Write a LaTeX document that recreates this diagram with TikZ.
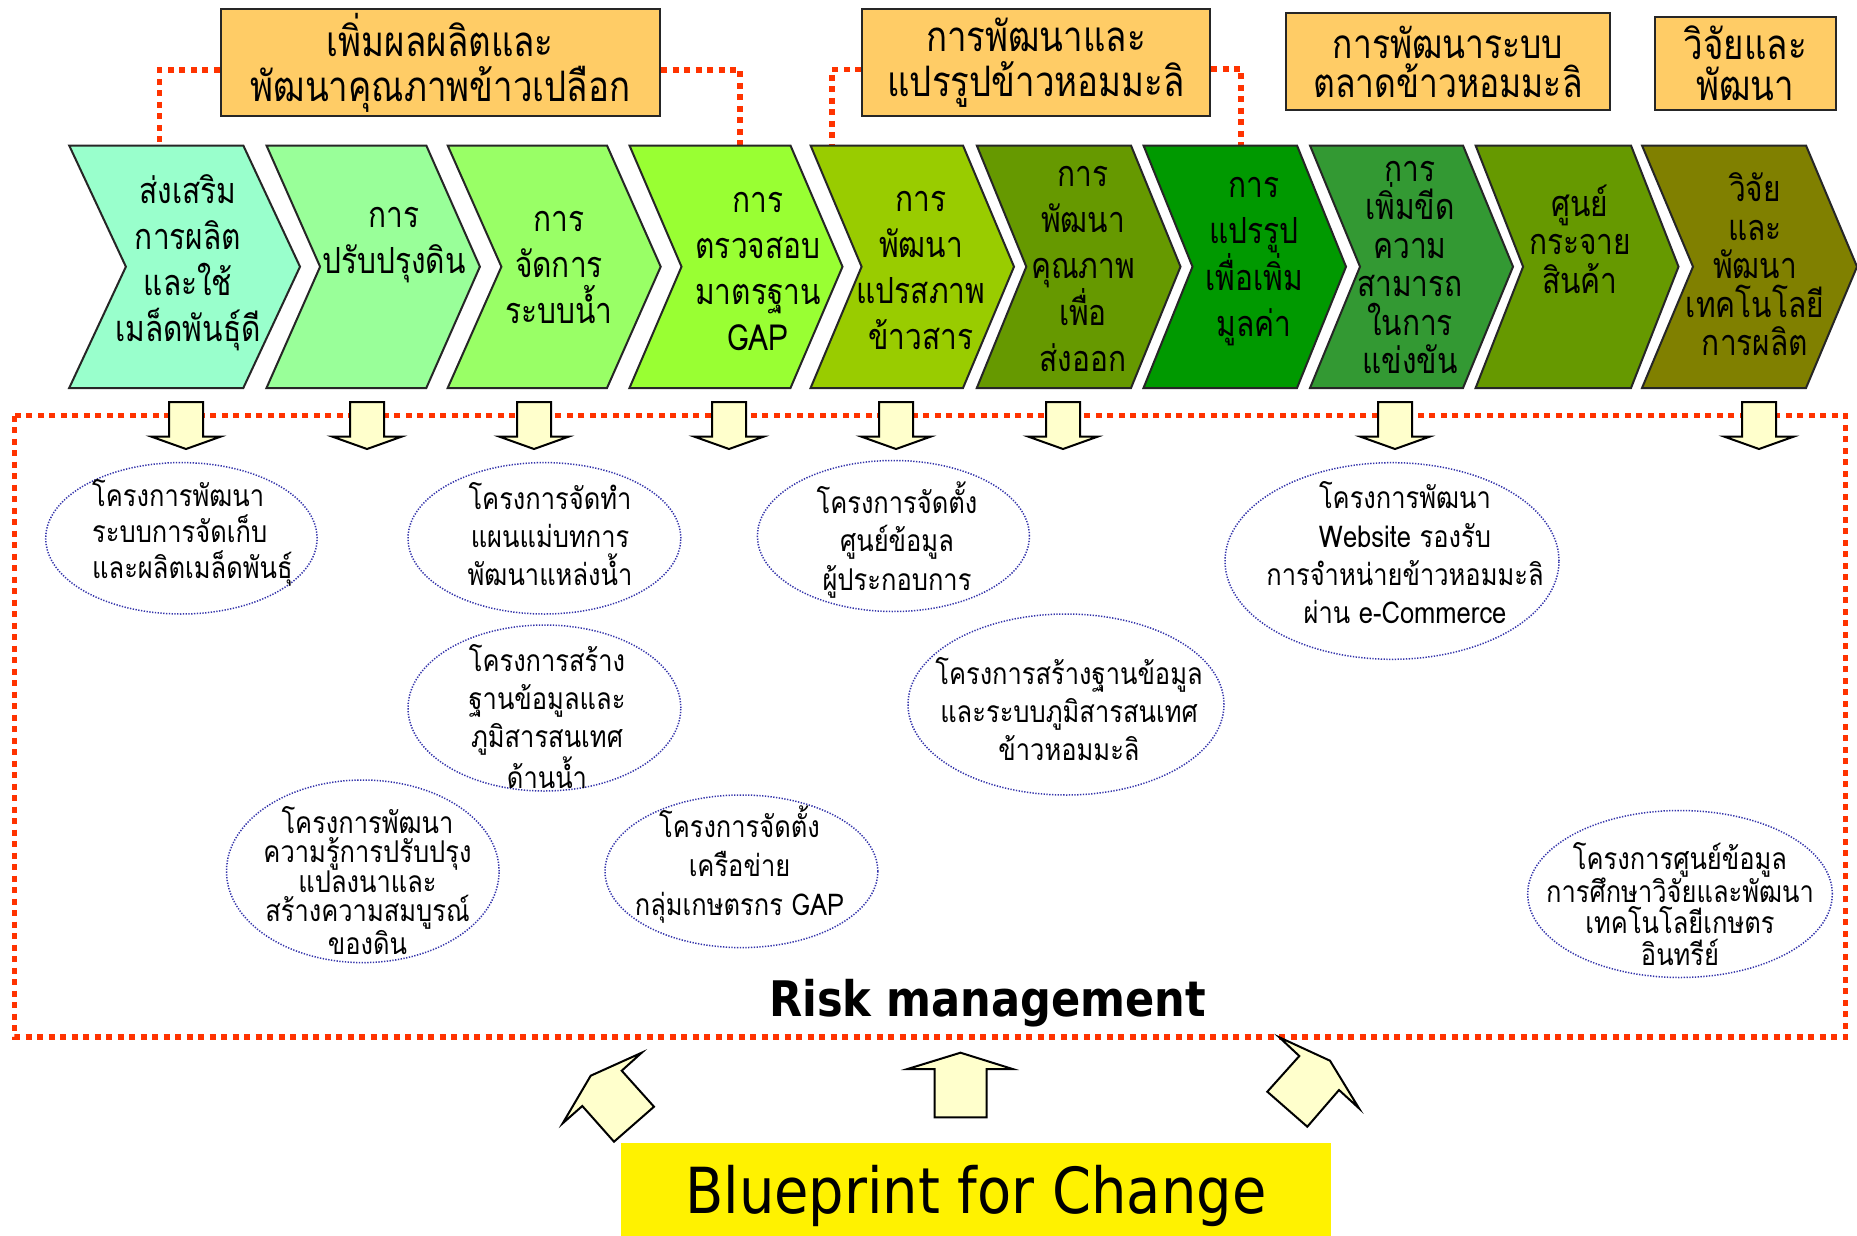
\documentclass[tikz,border=0pt]{standalone}
\usepackage{fontspec}
\usetikzlibrary{shapes.geometric,calc}
\newfontfamily\thf[Script=Thai,FakeStretch=0.83]{Loma}
\newfontfamily\thg[Script=Thai,FakeStretch=0.85]{Loma}
\newfontfamily\dvs[FakeStretch=0.88]{DejaVu Sans}
\definecolor{boxor}{HTML}{FFCC66}
\definecolor{riskred}{HTML}{FF3300}
\definecolor{ellblue}{HTML}{3333AA}
\definecolor{arrowy}{HTML}{FFFFCC}
\definecolor{cA}{HTML}{99FFCC}
\definecolor{cB}{HTML}{99FF99}
\definecolor{cC}{HTML}{99FF66}
\definecolor{cD}{HTML}{99FF33}
\definecolor{cE}{HTML}{99CC00}
\definecolor{cF}{HTML}{669900}
\definecolor{cG}{HTML}{009900}
\definecolor{cH}{HTML}{339933}
\definecolor{cI}{HTML}{669900}
\definecolor{cJ}{HTML}{808000}
\newcommand\chevshape[4]{%
  \filldraw[chevline,fill=#4] (#1,145.5) -- (#2,145.5) -- ({#2+#3},266.7) -- (#2,388) -- (#1,388) -- ({#1+#3},266.7) -- cycle;}
\newcommand\downarr[1]{%
  \filldraw[arrowfill] ({#1-17},402) -- ({#1+17},402) -- ({#1+17},436.7) -- ({#1+34.5},436.7) -- (#1,449) -- ({#1-34.5},436.7) -- ({#1-17},436.7) -- cycle;}
\begin{document}
\begin{tikzpicture}[x=1pt,y=-1pt,
  topbox/.style={draw=black!85,line width=2pt,fill=boxor,inner sep=0pt,align=center,font=\thf\fontsize{42}{45}\selectfont},
  chevline/.style={draw=black!85,line width=2pt,line join=miter},
  chevtxt/.style={align=center,inner sep=0pt,text=black,font=\thf\fontsize{36}{46}\selectfont},
  chevtxtb/.style={chevtxt,font=\thf\fontsize{36}{38.5}\selectfont},
  redline/.style={draw=riskred,line width=5.5pt,dash pattern=on 6pt off 5.5pt},
  ellnode/.style={ellipse,draw=ellblue,line width=1.5pt,dash pattern=on 1.3pt off 1.5pt,inner sep=0pt},
  etxt/.style={align=center,inner sep=0pt,font=\thg\fontsize{30}{38.3}\selectfont},
  arrowfill/.style={draw=black,line width=2pt,fill=arrowy,line join=miter}]
\useasboundingbox (0,0) rectangle (1857,1236);
\fill[white] (0,0) rectangle (1857,1236);

% top boxes
\node[topbox,minimum width=439.4,minimum height=107] (b1) at (440.3,62.5) {เพิ่มผลผลิตและ\\พัฒนาคุณภาพข้าวเปลือก};
\node[topbox,minimum width=348,minimum height=107] (b2) at (1036,62.5) {การพัฒนาและ\\แปรรูปข้าวหอมมะลิ};
\node[topbox,minimum width=324,minimum height=97,font=\thf\fontsize{40.5}{39}\selectfont] (b3) at (1448,62) {การพัฒนาระบบ\\ตลาดข้าวหอมมะลิ};
\node[topbox,minimum width=181.5,minimum height=93,font=\thf\fontsize{42}{41}\selectfont] (b4) at (1745.3,63.5) {วิจัยและ\\พัฒนา};

% connector end points on chevron tops
\coordinate (k1) at (159.4,145.5);
\coordinate (k2) at (740,145.5);
\coordinate (k3) at (832,145.5);
\coordinate (k4) at (1241,145.5);
\draw[redline] ([yshift=-7.5pt]b1.west) -| (k1);
\draw[redline] ([yshift=-7.5pt]b1.east) -| (k2);
\draw[redline] ([yshift=-7pt]b2.west) -| (k3);
\draw[redline] ([yshift=-6.5pt]b2.east) -| (k4);

% chevrons
\chevshape{69.2}{243.3}{56.7}{cA}
\chevshape{266.5}{426.3}{53.6}{cB}
\chevshape{447.7}{607}{53.7}{cC}
\chevshape{629.5}{790.5}{52}{cD}
\chevshape{810.6}{963}{51}{cE}
\chevshape{976.8}{1131}{49.5}{cF}
\chevshape{1143.5}{1297}{49}{cG}
\chevshape{1310}{1463}{50}{cH}
\chevshape{1475.6}{1631}{47.5}{cI}
\chevshape{1642}{1806}{51}{cJ}

\node[chevtxt] (s1) at (188,262.5) {ส่งเสริม\\การผลิต\\และใช้\\เมล็ดพันธุ์ดี};
\node[chevtxt] (s2) at (394,245.5) {การ\\ปรับปรุงดิน};
\node[chevtxt] (s3) at (559,267) {การ\\จัดการ\\ระบบน้ำ};
\node[chevtxt] (s4) at (758,271) {การ\\ตรวจสอบ\\มาตรฐาน\\GAP};
\node[chevtxt] (s5) at (921,270) {การ\\พัฒนา\\แปรสภาพ\\ข้าวสาร};
\node[chevtxt] (s6) at (1083,269) {การ\\พัฒนา\\คุณภาพ\\เพื่อ\\ส่งออก};
\node[chevtxt] (s7) at (1254,261.5) {การ\\แปรรูป\\เพื่อเพิ่ม\\มูลค่า};
\node[chevtxtb] (s8) at (1410,267.5) {การ\\เพิ่มขีด\\ความ\\สามารถ\\ในการ\\แข่งขัน};
\node[chevtxtb] (s9) at (1580,239) {ศูนย์\\กระจาย\\สินค้า};
\node[chevtxtb] (s10) at (1755,264.5) {วิจัย\\และ\\พัฒนา\\เทคโนโลยี\\การผลิต};

% risk frame
\draw[redline] (14.5,415.7) rectangle (1845.7,1037);

% down arrows
\downarr{186}
\downarr{367}
\downarr{534}
\downarr{729}
\downarr{896}
\downarr{1063}
\downarr{1395}
\downarr{1759}

% ellipses
\node[ellnode,minimum width=271.4,minimum height=151.4] (e1) at (181.4,538.3) {};
\node[ellnode,minimum width=272.8,minimum height=151.4] (e2) at (544.4,538.3) {};
\node[ellnode,minimum width=272,minimum height=151] (e3) at (893.4,536) {};
\node[ellnode,minimum width=334,minimum height=196.6] (e4) at (1392,561) {};
\node[ellnode,minimum width=272.8,minimum height=166] (e5) at (544.4,708) {};
\node[ellnode,minimum width=316,minimum height=181] (e6) at (1066,704.5) {};
\node[ellnode,minimum width=272.6,minimum height=182.6] (e7) at (362.8,871.3) {};
\node[ellnode,minimum width=272.8,minimum height=152.6] (e8) at (741.4,871.3) {};
\node[ellnode,minimum width=304.6,minimum height=167] (e9) at (1680,894) {};

\node[etxt,align=left,anchor=west,font=\thg\fontsize{30}{36}\selectfont] (t1) at (92,533) {โครงการพัฒนา\\ระบบการจัดเก็บ\\และผลิตเมล็ดพันธุ์};
\node[etxt] (t2) at (550,534) {โครงการจัดทำ\\แผนแม่บทการ\\พัฒนาแหล่งน้ำ};
\node[etxt] (t3) at (897,540) {โครงการจัดตั้ง\\ศูนย์ข้อมูล\\ผู้ประกอบการ};
\node[etxt] (t4) at (1405,553) {โครงการพัฒนา\\Website รองรับ\\การจำหน่ายข้าวหอมมะลิ\\ผ่าน e-Commerce};
\node[etxt] (t5) at (547,716.5) {โครงการสร้าง\\ฐานข้อมูลและ\\ภูมิสารสนเทศ\\ด้านน้ำ};
\node[etxt] (t6) at (1069,709) {โครงการสร้างฐานข้อมูล\\และระบบภูมิสารสนเทศ\\ข้าวหอมมะลิ};
\node[etxt,font=\thg\fontsize{30}{29}\selectfont] (t7) at (367.5,880.3) {โครงการพัฒนา\\ความรู้การปรับปรุง\\แปลงนาและ\\สร้างความสมบูรณ์\\ของดิน};
\node[etxt,font=\thg\fontsize{30}{39}\selectfont] (t8) at (739.5,865) {โครงการจัดตั้ง\\เครือข่าย\\กลุ่มเกษตรกร GAP};
\node[etxt,font=\thg\fontsize{30}{31.3}\selectfont] (t9) at (1680,903.7) {โครงการศูนย์ข้อมูล\\การศึกษาวิจัยและพัฒนา\\เทคโนโลยีเกษตร\\อินทรีย์};

\node[anchor=base,inner sep=0pt,font=\dvs\bfseries\fontsize{49}{51}\selectfont] (risk) at (987.5,1016.7) {Risk management};

% bottom arrows
\filldraw[arrowfill] (641.7,1052.7) -- (621.7,1070.7) -- (654,1106.7) -- (614,1141.7) -- (582.3,1106) -- (562.7,1123.3) -- (590.7,1075.7) -- cycle;
\filldraw[arrowfill] (960.5,1052.7) -- (1012.6,1069) -- (986.7,1069) -- (986.7,1117.3) -- (934.5,1117.3) -- (934.5,1069) -- (907.5,1069) -- cycle;
\filldraw[arrowfill] (1279.3,1037.3) -- (1299.3,1056) -- (1267.3,1091.7) -- (1307.3,1126.7) -- (1339,1090) -- (1359,1108.3) -- (1330,1060.7) -- cycle;

% blueprint
\node[fill=yellow,inner sep=0pt,minimum width=710.1,minimum height=100,anchor=north west] (bpbox) at (620.5,1142.3) {};
\node[anchor=base,inner sep=0pt,font=\dvs\fontsize{63.5}{65}\selectfont] (bp) at (975.8,1213.3) {Blueprint for Change};
\end{tikzpicture}
\end{document}
